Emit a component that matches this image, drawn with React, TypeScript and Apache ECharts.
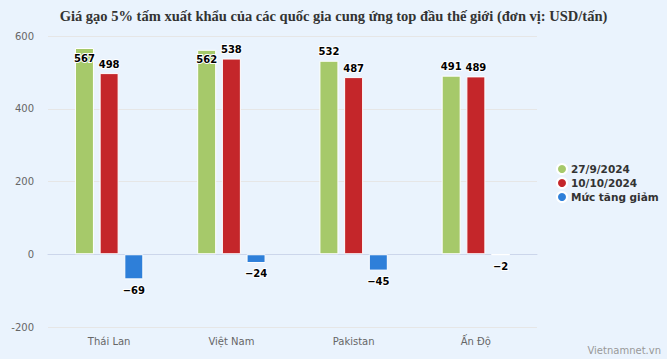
import React, { useEffect, useRef } from "react";
import * as echarts from "echarts";

const categories = ["Thái Lan", "Việt Nam", "Pakistan", "Ấn Độ"];
const seriesNames = ["27/9/2024", "10/10/2024", "Mức tăng giảm"];
const price0927 = [567, 562, 532, 491];
const price1010 = [498, 538, 487, 489];
const change = [-69, -24, -45, -2];
const yTicks = { min: -200, max: 600, interval: 200 };
const colors = ["#A6C96A", "#C4262A", "#2E7FD9"];

const fmt = (v: number) => (v < 0 ? "\u2212" + Math.abs(v) : String(v));

export default function App() {
  const ref = useRef<HTMLDivElement>(null);
  useEffect(() => {
    document.body.style.margin = "0";
    const chart = echarts.init(ref.current!, undefined, { renderer: "svg" });
    const labelBase = {
      show: true,
      fontFamily: "DejaVu Sans",
      fontWeight: "bold" as const,
      fontSize: 10,
      color: "#000",
      textBorderColor: "#fff",
      textBorderWidth: 2,
      formatter: (p: any) => fmt(p.value),
    };
    const itemStyle = (c: string) => ({ color: c, borderColor: "#fff", borderWidth: 1 });
    chart.setOption({
      animation: false,
      backgroundColor: "#EAF3FD",
      title: {
        text: "Giá gạo 5% tấm xuất khẩu của các quốc gia cung ứng top đầu thế giới (đơn vị: USD/tấn)",
        left: "center",
        top: 3,
        textStyle: {
          fontFamily: "Liberation Serif",
          fontWeight: "bold",
          fontSize: 14.5,
          color: "#333",
        },
      },
      legend: {
        orient: "vertical",
        left: 551,
        top: 158,
        icon: "circle",
        itemWidth: 10,
        itemHeight: 10,
        itemGap: 2,
        textStyle: {
          fontFamily: "DejaVu Sans",
          fontWeight: "bold",
          fontSize: 10.5,
          color: "#333",
          padding: [0, 0, 0, -1],
        },
        data: seriesNames,
      },
      grid: { left: 48, right: 130, top: 36, bottom: 32, containLabel: false },
      xAxis: {
        type: "category",
        data: categories,
        axisLine: { lineStyle: { color: "#ccd6eb" } },
        axisTick: { show: false },
        axisLabel: { color: "#666", fontFamily: "DejaVu Sans", fontSize: 10, margin: 9 },
      },
      yAxis: {
        type: "value",
        min: yTicks.min,
        max: yTicks.max,
        interval: yTicks.interval,
        axisLine: { show: false },
        axisTick: { show: false },
        splitLine: { lineStyle: { color: "#e6e6e6" } },
        axisLabel: { color: "#666", fontFamily: "DejaVu Sans", fontSize: 10, margin: 14 },
      },
      series: [
        {
          name: seriesNames[0],
          type: "bar",
          data: price0927.map((v, i) => ({
            value: v,
            label: i < 2 ? { position: "insideTop", distance: 5 } : { position: "top", distance: 4 },
          })),
          barWidth: 19,
          barGap: "30%",
          itemStyle: itemStyle(colors[0]),
          label: labelBase,
        },
        {
          name: seriesNames[1],
          type: "bar",
          data: price1010,
          barWidth: 19,
          barGap: "30%",
          itemStyle: itemStyle(colors[1]),
          label: { ...labelBase, position: "top", distance: 4 },
        },
        {
          name: seriesNames[2],
          type: "bar",
          data: change,
          barWidth: 19,
          barGap: "30%",
          itemStyle: itemStyle(colors[2]),
          label: { ...labelBase, position: "bottom", distance: 6 },
        },
      ],
      graphic: [
        {
          type: "text",
          right: 6,
          bottom: 4,
          style: { text: "Vietnamnet.vn", fill: "#999", font: "10px DejaVu Sans" },
        },
      ],
    });
    return () => chart.dispose();
  }, []);
  return <div ref={ref} style={{ width: 667, height: 359 }} />;
}
